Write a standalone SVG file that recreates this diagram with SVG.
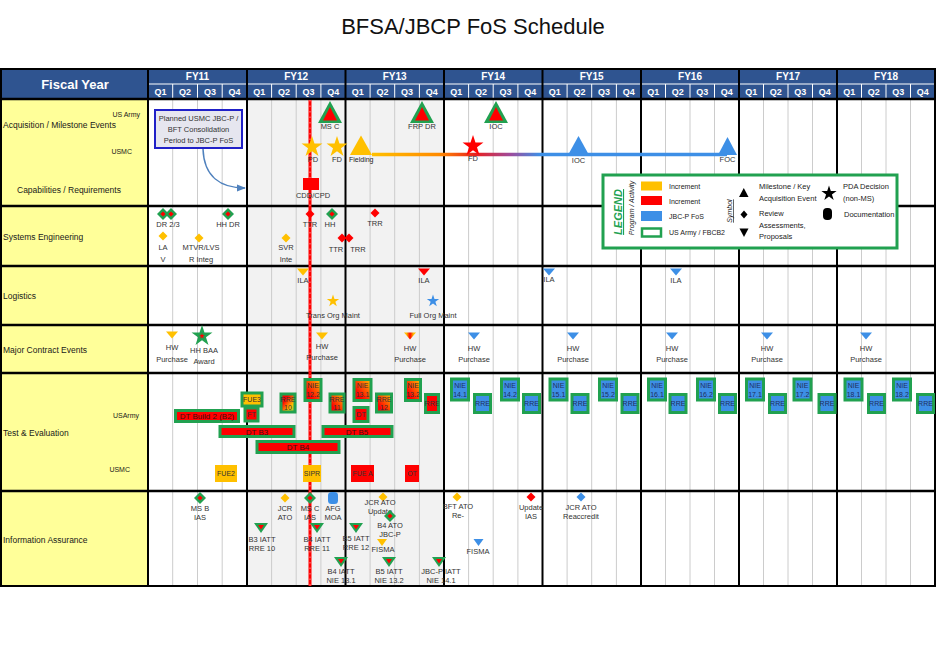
<svg xmlns="http://www.w3.org/2000/svg" xmlns:xlink="http://www.w3.org/1999/xlink" width="938" height="659" viewBox="0 0 938 659">
<style>
text{font-family:"Liberation Sans",Arial,sans-serif}
.title{font-size:22px;fill:#111;text-anchor:middle}
.hfy{font-size:10px;font-weight:bold;fill:#fff;text-anchor:middle}
.hq{font-size:9px;font-weight:bold;fill:#fff;text-anchor:middle}
.row{font-size:8.5px;fill:#1a1a1a}
.sub{font-size:7px;fill:#1a1a1a;text-anchor:end}
.t{font-size:7.5px;fill:#333;text-anchor:middle}
.tb{font-size:7px;fill:#1f2f60;text-anchor:middle}
.tl{font-size:7px;fill:#222}
.bar{font-size:8px;fill:#3a1010;text-anchor:middle}
.qline{stroke:#cccccc;stroke-width:1}
.yline{stroke:#000;stroke-width:2}
.rline{stroke:#000;stroke-width:2.5}
.gb{stroke:#21a150;stroke-width:3}
.gold{fill:#ffc000}
.red{fill:#ff0000}
.blue{fill:#3d8fe6}
.grn{fill:#21a150}
.blk{fill:#000}
</style>
<defs>
<path id="star" d="M0,-10 L2.25,-3.09 9.51,-3.09 3.63,1.18 5.88,8.09 0,3.82 -5.88,8.09 -3.63,1.18 -9.51,-3.09 -2.25,-3.09Z"/>
<path id="dia" d="M0,-4.5 L4.5,0 0,4.5 -4.5,0Z"/>
<path id="dtri" d="M-6,-3.5 L6,-3.5 0,3.5Z"/>
<g id="gdia"><path d="M0,-6 L6,0 0,6 -6,0Z" fill="#21a150"/><path d="M0,-2.6 L2.6,0 0,2.6 -2.6,0Z" fill="#ff0000"/></g>
<g id="gtri"><path d="M-7,-5 L7,-5 0,5Z" fill="#21a150"/><path d="M-3,-3 L3,-3 0,1.5Z" fill="#ff0000"/></g>
<g id="gup"><path d="M0,-11 L12,11 -12,11Z" fill="#21a150"/><path d="M0,-5 L7,8.5 -7,8.5Z" fill="#ff0000"/></g>
<linearGradient id="gLine" gradientUnits="userSpaceOnUse" x1="372" y1="0" x2="540" y2="0">
<stop offset="0" stop-color="#ffc000"/><stop offset="0.4" stop-color="#ff8a00"/><stop offset="0.62" stop-color="#e82020"/><stop offset="0.82" stop-color="#a04a9a"/><stop offset="1" stop-color="#3d8fe6"/>
</linearGradient>
<linearGradient id="gOR" x1="0" y1="1" x2="1" y2="0">
<stop offset="0.25" stop-color="#ff0000"/><stop offset="1" stop-color="#ffc000"/>
</linearGradient>
<linearGradient id="gRG" x1="0" y1="0" x2="1" y2="1">
<stop offset="0.3" stop-color="#ff0000"/><stop offset="0.7" stop-color="#ffc000"/><stop offset="1" stop-color="#92d050"/>
</linearGradient>
<linearGradient id="gHW" x1="0" y1="0" x2="1" y2="0">
<stop offset="0.2" stop-color="#ffc000"/><stop offset="0.5" stop-color="#ff0000"/><stop offset="0.8" stop-color="#ffc000"/>
</linearGradient>
<marker id="arr" viewBox="0 0 10 10" refX="9" refY="5" markerWidth="6" markerHeight="6" orient="auto">
<path d="M0,1 L10,5 0,9Z" fill="#4f81bd"/>
</marker>
</defs>

<rect width="938" height="659" fill="#fff"/>
<text class="title" x="473" y="34">BFSA/JBCP FoS Schedule</text>

<g id="grid">
<rect x="1" y="99" width="147" height="487" fill="#ffff99"/>
<rect x="247" y="99" width="197" height="487" fill="#f2f2f2"/>
<rect x="1" y="69" width="934" height="30" fill="#2f5490"/>
<text x="75" y="89" style="font-size:13px;font-weight:bold;fill:#fff;text-anchor:middle">Fiscal Year</text>
<line x1="148" y1="84" x2="935" y2="84" stroke="#fff" stroke-width="1"/>
<g class="hfy">
<text x="197.5" y="80">FY11</text><text x="296.2" y="80">FY12</text><text x="394.7" y="80">FY13</text><text x="493.2" y="80">FY14</text>
<text x="591.7" y="80">FY15</text><text x="690" y="80">FY16</text><text x="788" y="80">FY17</text><text x="886" y="80">FY18</text>
</g>
<g stroke="#fff" stroke-width="1">
<line x1="172.7" y1="84" x2="172.7" y2="99"/><line x1="197.5" y1="84" x2="197.5" y2="99"/><line x1="222.2" y1="84" x2="222.2" y2="99"/>
<line x1="271.6" y1="84" x2="271.6" y2="99"/><line x1="296.2" y1="84" x2="296.2" y2="99"/><line x1="320.9" y1="84" x2="320.9" y2="99"/>
<line x1="370.1" y1="84" x2="370.1" y2="99"/><line x1="394.7" y1="84" x2="394.7" y2="99"/><line x1="419.4" y1="84" x2="419.4" y2="99"/>
<line x1="468.6" y1="84" x2="468.6" y2="99"/><line x1="493.2" y1="84" x2="493.2" y2="99"/><line x1="517.9" y1="84" x2="517.9" y2="99"/>
<line x1="567.1" y1="84" x2="567.1" y2="99"/><line x1="591.7" y1="84" x2="591.7" y2="99"/><line x1="616.4" y1="84" x2="616.4" y2="99"/>
<line x1="665.5" y1="84" x2="665.5" y2="99"/><line x1="690" y1="84" x2="690" y2="99"/><line x1="714.5" y1="84" x2="714.5" y2="99"/>
<line x1="763.5" y1="84" x2="763.5" y2="99"/><line x1="788" y1="84" x2="788" y2="99"/><line x1="812.5" y1="84" x2="812.5" y2="99"/>
<line x1="861.5" y1="84" x2="861.5" y2="99"/><line x1="886" y1="84" x2="886" y2="99"/><line x1="910.5" y1="84" x2="910.5" y2="99"/>
</g>
<g class="hq">
<text x="160.4" y="95">Q1</text><text x="185.1" y="95">Q2</text><text x="209.9" y="95">Q3</text><text x="234.6" y="95">Q4</text>
<text x="259.3" y="95">Q1</text><text x="283.9" y="95">Q2</text><text x="308.6" y="95">Q3</text><text x="333.2" y="95">Q4</text>
<text x="357.8" y="95">Q1</text><text x="382.4" y="95">Q2</text><text x="407.1" y="95">Q3</text><text x="431.7" y="95">Q4</text>
<text x="456.3" y="95">Q1</text><text x="480.9" y="95">Q2</text><text x="505.6" y="95">Q3</text><text x="530.2" y="95">Q4</text>
<text x="554.8" y="95">Q1</text><text x="579.4" y="95">Q2</text><text x="604.1" y="95">Q3</text><text x="628.7" y="95">Q4</text>
<text x="653.2" y="95">Q1</text><text x="677.7" y="95">Q2</text><text x="702.2" y="95">Q3</text><text x="726.7" y="95">Q4</text>
<text x="751.2" y="95">Q1</text><text x="775.7" y="95">Q2</text><text x="800.2" y="95">Q3</text><text x="824.7" y="95">Q4</text>
<text x="849.2" y="95">Q1</text><text x="873.7" y="95">Q2</text><text x="898.2" y="95">Q3</text><text x="922.7" y="95">Q4</text>
</g>
<g class="qline">
<line x1="172.7" y1="99" x2="172.7" y2="586"/><line x1="197.5" y1="99" x2="197.5" y2="586"/><line x1="222.2" y1="99" x2="222.2" y2="586"/>
<line x1="271.6" y1="99" x2="271.6" y2="586"/><line x1="296.2" y1="99" x2="296.2" y2="586"/><line x1="320.9" y1="99" x2="320.9" y2="586"/>
<line x1="370.1" y1="99" x2="370.1" y2="586"/><line x1="394.7" y1="99" x2="394.7" y2="586"/><line x1="419.4" y1="99" x2="419.4" y2="586"/>
<line x1="468.6" y1="99" x2="468.6" y2="586"/><line x1="493.2" y1="99" x2="493.2" y2="586"/><line x1="517.9" y1="99" x2="517.9" y2="586"/>
<line x1="567.1" y1="99" x2="567.1" y2="586"/><line x1="591.7" y1="99" x2="591.7" y2="586"/><line x1="616.4" y1="99" x2="616.4" y2="586"/>
<line x1="665.5" y1="99" x2="665.5" y2="586"/><line x1="690" y1="99" x2="690" y2="586"/><line x1="714.5" y1="99" x2="714.5" y2="586"/>
<line x1="763.5" y1="99" x2="763.5" y2="586"/><line x1="788" y1="99" x2="788" y2="586"/><line x1="812.5" y1="99" x2="812.5" y2="586"/>
<line x1="861.5" y1="99" x2="861.5" y2="586"/><line x1="886" y1="99" x2="886" y2="586"/><line x1="910.5" y1="99" x2="910.5" y2="586"/>
</g>
<g class="yline">
<line x1="148" y1="69" x2="148" y2="586"/><line x1="247" y1="69" x2="247" y2="586"/><line x1="345.5" y1="69" x2="345.5" y2="586"/>
<line x1="444" y1="69" x2="444" y2="586"/><line x1="542.5" y1="69" x2="542.5" y2="586"/><line x1="641" y1="69" x2="641" y2="586"/>
<line x1="739" y1="69" x2="739" y2="586"/><line x1="837" y1="69" x2="837" y2="586"/>
</g>
<g class="rline">
<line x1="1" y1="99" x2="935" y2="99"/><line x1="1" y1="206" x2="935" y2="206"/><line x1="1" y1="266" x2="935" y2="266"/>
<line x1="1" y1="325" x2="935" y2="325"/><line x1="1" y1="373" x2="935" y2="373"/><line x1="1" y1="491" x2="935" y2="491"/>
</g>
<rect x="1" y="69" width="934" height="517" fill="none" stroke="#000" stroke-width="2"/>
<g class="row">
<text x="3" y="128">Acquisition / Milestone Events</text>
<text x="17" y="193">Capabilities / Requirements</text>
<text x="3" y="240">Systems Engineering</text>
<text x="3" y="299">Logistics</text>
<text x="3" y="353">Major Contract Events</text>
<text x="3" y="436">Test &amp; Evaluation</text>
<text x="3" y="543">Information Assurance</text>
</g>
<g class="sub">
<text x="140" y="117">US Army</text>
<text x="132" y="154">USMC</text>
<text x="139" y="418">USArmy</text>
<text x="130" y="472">USMC</text>
</g>
<line x1="310" y1="100" x2="310" y2="586" stroke="#ff0000" stroke-width="3"/>
<line x1="310" y1="100" x2="310" y2="586" stroke="#fff" stroke-width="0.7" stroke-dasharray="1.5,4" opacity="0.8"/>
</g>

<g id="connectors">
<path d="M203,149 C204,177 221,188 245,188" fill="none" stroke="#4f81bd" stroke-width="1.5" marker-end="url(#arr)"/>
<line x1="372" y1="154.5" x2="727" y2="154.5" stroke="url(#gLine)" stroke-width="3.5"/>
</g>

<g id="acquisition">
<g id="consolidation-note">
<rect x="155" y="110" width="87" height="38" fill="#e6e6ef" stroke="#2020c8" stroke-width="2"/>
<text class="t" x="198.5" y="121" style="font-size:7.5px">Planned USMC JBC-P /</text>
<text class="t" x="198.5" y="132" style="font-size:7.5px">BFT Consolidation</text>
<text class="t" x="198.5" y="143" style="font-size:7.5px">Period to JBC-P FoS</text>
</g>
<g id="ms-c"><use href="#gup" x="330" y="112"/><text class="t" x="330" y="129">MS C</text></g>
<g id="frp-dr"><use href="#gup" x="422" y="112"/><text class="t" x="422" y="129">FRP DR</text></g>
<g id="ioc-army"><use href="#gup" x="496" y="112"/><text class="t" x="496" y="129">IOC</text></g>
<g id="pd"><use href="#star" class="gold" transform="translate(312,147) scale(1.1)"/><text class="t" x="313" y="162">PD</text></g>
<g id="fd1"><use href="#star" class="gold" transform="translate(337,147) scale(1.1)"/><text class="t" x="337" y="162">FD</text></g>
<g id="fielding"><path d="M361,135.5 L372,155 350,155Z" class="gold"/><text class="tl" x="349" y="162">Fielding</text></g>
<g id="fd2"><use href="#star" class="red" transform="translate(473,146) scale(1.1)"/><text class="t" x="473" y="161">FD</text></g>
<g id="ioc-usmc"><path d="M578.5,136 L589,155 568,155Z" class="blue"/><text class="t" x="578.5" y="163">IOC</text></g>
<g id="foc"><path d="M727.5,137 L737,155 718,155Z" class="blue"/><text class="t" x="727.5" y="162">FOC</text></g>
<g id="cdd"><rect x="303" y="178" width="16" height="12" class="red"/><text class="t" x="313" y="198">CDD/CPD</text></g>
</g>

<g id="systems-engineering">
<g id="dr23"><use href="#gdia" x="163" y="214"/><use href="#gdia" x="171" y="214"/><text class="t" x="168" y="227">DR 2/3</text></g>
<g id="hhdr"><use href="#gdia" x="228" y="214"/><text class="t" x="228" y="227">HH DR</text></g>
<g id="lav"><use href="#dia" class="gold" x="163" y="236"/><text class="t" x="163" y="250">LA</text><text class="t" x="163" y="262">V</text></g>
<g id="mtvr"><use href="#dia" class="gold" x="199" y="238"/><text class="t" x="201" y="250">MTVR/LVS</text><text class="t" x="201" y="262">R Integ</text></g>
<g id="svr"><use href="#dia" class="gold" x="286" y="238"/><text class="t" x="286" y="250">SVR</text><text class="t" x="286" y="262">Inte</text></g>
<g id="ttr1"><use href="#dia" class="red" x="310" y="214"/><text class="t" x="310" y="227">TTR</text></g>
<g id="hh"><use href="#gdia" x="332" y="214"/><text class="t" x="330" y="227">HH</text></g>
<g id="trr1"><use href="#dia" class="red" x="375" y="213"/><text class="t" x="375" y="226">TRR</text></g>
<g id="ttr-trr"><use href="#dia" class="red" x="342" y="238"/><use href="#dia" class="red" x="349" y="238"/><text class="t" x="336" y="252">TTR</text><text class="t" x="358" y="252">TRR</text></g>
</g>

<g id="logistics">
<g id="ila1"><use href="#dtri" class="gold" x="303" y="272"/><text class="t" x="303" y="283">ILA</text></g>
<g id="trans-org"><use href="#star" class="gold" transform="translate(333,301) scale(0.65)"/><text class="t" x="333" y="318">Trans Org Maint</text></g>
<g id="ila2"><use href="#dtri" class="red" x="424" y="272"/><text class="t" x="424" y="283">ILA</text></g>
<g id="full-org"><use href="#star" class="blue" transform="translate(433,301) scale(0.65)"/><text class="t" x="433" y="318">Full Org Maint</text></g>
<g id="ila3"><use href="#dtri" class="blue" x="549" y="272"/><text class="t" x="549" y="282">ILA</text></g>
<g id="ila4"><use href="#dtri" class="blue" x="676" y="272"/><text class="t" x="676" y="283">ILA</text></g>
</g>

<g id="major-contract">
<g id="hw1"><use href="#dtri" class="gold" x="172" y="335"/><text class="t" x="172" y="350">HW</text><text class="t" x="172" y="362">Purchase</text></g>
<g id="hhbaa"><use href="#star" class="grn" transform="translate(202,336) scale(1.1)"/><use href="#star" class="red" transform="translate(202,336) scale(0.3)"/><text class="t" x="204" y="353">HH BAA</text><text class="t" x="204" y="364">Award</text></g>
<g id="hw2"><use href="#dtri" class="gold" x="322" y="336"/><text class="t" x="322" y="349">HW</text><text class="t" x="322" y="360">Purchase</text></g>
<g id="hw3"><path d="M404,332.5 L416,332.5 410,339.5Z" fill="url(#gHW)"/><text class="t" x="410" y="351">HW</text><text class="t" x="410" y="362">Purchase</text></g>
<g id="hw4"><use href="#dtri" class="blue" x="474" y="336"/><text class="t" x="474" y="351">HW</text><text class="t" x="474" y="362">Purchase</text></g>
<g id="hw5"><use href="#dtri" class="blue" x="573" y="336"/><text class="t" x="573" y="351">HW</text><text class="t" x="573" y="362">Purchase</text></g>
<g id="hw6"><use href="#dtri" class="blue" x="672" y="336"/><text class="t" x="672" y="351">HW</text><text class="t" x="672" y="362">Purchase</text></g>
<g id="hw7"><use href="#dtri" class="blue" x="767" y="336"/><text class="t" x="767" y="351">HW</text><text class="t" x="767" y="362">Purchase</text></g>
<g id="hw8"><use href="#dtri" class="blue" x="866" y="336"/><text class="t" x="866" y="351">HW</text><text class="t" x="866" y="362">Purchase</text></g>
</g>

<g id="test-evaluation">
<g id="dt-b2"><rect x="175.5" y="410.5" width="63" height="11" class="red gb"/><text class="bar" x="207" y="419">DT Build 2 (B2)</text></g>
<g id="fue3"><rect x="242" y="393" width="20" height="13" class="gold gb"/><text class="tb" x="252" y="402" style="fill:#333">FUE3</text></g>
<g id="ft"><rect x="245" y="408" width="13" height="13" class="red gb"/><text class="tb" x="251.5" y="417" style="fill:#333">FT</text></g>
<g id="dt-b3"><rect x="220" y="426.5" width="74" height="10" class="red gb"/><text class="bar" x="257" y="435">DT B3</text></g>
<g id="dt-b4"><rect x="257" y="441.5" width="82" height="11" class="red gb"/><text class="bar" x="298" y="450">DT B4</text></g>
<g id="dt-b5"><rect x="323" y="426.5" width="69" height="10" class="red gb"/><text class="bar" x="357" y="435">DT B5</text></g>
<g id="rre10"><rect x="281" y="394" width="14" height="18" fill="url(#gRG)" class="gb"/><text class="tb" x="288" y="402" style="fill:#333">RRE</text><text class="tb" x="288" y="410" style="fill:#333">10</text></g>
<g id="nie122"><rect x="305" y="379.5" width="16" height="21" fill="url(#gOR)" class="gb"/><text class="tb" x="313" y="388" style="fill:#333">NIE</text><text class="tb" x="313" y="397" style="fill:#333">12.2</text></g>
<g id="rre11"><rect x="330" y="394" width="14" height="18" fill="url(#gOR)" class="gb"/><text class="tb" x="337" y="402" style="fill:#333">RRE</text><text class="tb" x="337" y="410" style="fill:#333">11</text></g>
<g id="nie131"><rect x="354" y="379.5" width="17" height="21" fill="url(#gOR)" class="gb"/><text class="tb" x="362.5" y="388" style="fill:#333">NIE</text><text class="tb" x="362.5" y="397" style="fill:#333">13.1</text></g>
<g id="dt"><rect x="354" y="407.5" width="14" height="14" class="red gb"/><text class="tb" x="361" y="417" style="fill:#333">DT</text></g>
<g id="rre12"><rect x="376.5" y="394" width="15" height="18" fill="url(#gOR)" class="gb"/><text class="tb" x="384" y="402" style="fill:#333">RRE</text><text class="tb" x="384" y="410" style="fill:#333">12</text></g>
<g id="nie132"><rect x="405.5" y="379.5" width="15" height="21" fill="url(#gOR)" class="gb"/><text class="tb" x="413" y="388" style="fill:#333">NIE</text><text class="tb" x="413" y="397" style="fill:#333">13.2</text></g>
<g id="rre13"><rect x="425.5" y="394.5" width="13" height="18" class="red gb"/><text class="tb" x="432" y="406" style="fill:#333">RRE</text></g>
<g id="fue2"><rect x="215" y="465" width="22" height="17" class="gold"/><text class="tb" x="226" y="476" style="fill:#333">FUE2</text></g>
<g id="sipr"><rect x="303" y="465" width="18" height="17" class="gold"/><text class="tb" x="312" y="476" style="fill:#333">SIPR</text></g>
<g id="fuea"><rect x="351" y="465" width="23" height="17" class="red"/><text class="tb" x="362.5" y="476" style="fill:#333">FUE A</text></g>
<g id="ot"><rect x="405" y="465" width="14" height="17" class="red"/><text class="tb" x="412" y="476" style="fill:#333">OT</text></g>
<g id="fy14-te">
<rect x="451.5" y="379" width="17" height="21" class="blue gb"/><text class="tb" x="460" y="388">NIE</text><text class="tb" x="460" y="397">14.1</text>
<rect x="474.5" y="394.5" width="16" height="18" class="blue gb"/><text class="tb" x="482.5" y="406">RRE</text>
<rect x="501.5" y="379" width="17" height="21" class="blue gb"/><text class="tb" x="510" y="388">NIE</text><text class="tb" x="510" y="397">14.2</text>
<rect x="523.5" y="394.5" width="16" height="18" class="blue gb"/><text class="tb" x="531.5" y="406">RRE</text>
</g>
<g id="fy15-te">
<rect x="550" y="379" width="17" height="21" class="blue gb"/><text class="tb" x="558.5" y="388">NIE</text><text class="tb" x="558.5" y="397">15.1</text>
<rect x="572" y="394.5" width="16" height="18" class="blue gb"/><text class="tb" x="580" y="406">RRE</text>
<rect x="599.5" y="379" width="17" height="21" class="blue gb"/><text class="tb" x="608" y="388">NIE</text><text class="tb" x="608" y="397">15.2</text>
<rect x="622" y="394.5" width="16" height="18" class="blue gb"/><text class="tb" x="630" y="406">RRE</text>
</g>
<g id="fy16-te">
<rect x="648.5" y="379" width="17" height="21" class="blue gb"/><text class="tb" x="657" y="388">NIE</text><text class="tb" x="657" y="397">16.1</text>
<rect x="670" y="394.5" width="16" height="18" class="blue gb"/><text class="tb" x="678" y="406">RRE</text>
<rect x="697.5" y="379" width="17" height="21" class="blue gb"/><text class="tb" x="706" y="388">NIE</text><text class="tb" x="706" y="397">16.2</text>
<rect x="719.5" y="394.5" width="16" height="18" class="blue gb"/><text class="tb" x="727.5" y="406">RRE</text>
</g>
<g id="fy17-te">
<rect x="746.5" y="379" width="17" height="21" class="blue gb"/><text class="tb" x="755" y="388">NIE</text><text class="tb" x="755" y="397">17.1</text>
<rect x="769.5" y="394.5" width="16" height="18" class="blue gb"/><text class="tb" x="777.5" y="406">RRE</text>
<rect x="794" y="379" width="17" height="21" class="blue gb"/><text class="tb" x="802.5" y="388">NIE</text><text class="tb" x="802.5" y="397">17.2</text>
<rect x="819" y="394.5" width="16" height="18" class="blue gb"/><text class="tb" x="827" y="406">RRE</text>
</g>
<g id="fy18-te">
<rect x="845" y="379" width="17" height="21" class="blue gb"/><text class="tb" x="853.5" y="388">NIE</text><text class="tb" x="853.5" y="397">18.1</text>
<rect x="868.5" y="394.5" width="16" height="18" class="blue gb"/><text class="tb" x="876.5" y="406">RRE</text>
<rect x="893.5" y="379" width="17" height="21" class="blue gb"/><text class="tb" x="902" y="388">NIE</text><text class="tb" x="902" y="397">18.2</text>
<rect x="917.5" y="394.5" width="16" height="18" class="blue gb"/><text class="tb" x="925.5" y="406">RRE</text>
</g>
</g>

<g id="information-assurance">
<g id="msb-ias"><use href="#gdia" x="200" y="498"/><text class="t" x="200" y="511">MS B</text><text class="t" x="200" y="520">IAS</text></g>
<g id="jcr-ato"><use href="#dia" class="gold" x="285" y="498"/><text class="t" x="285" y="511">JCR</text><text class="t" x="285" y="520">ATO</text></g>
<g id="msc-ias"><use href="#gdia" x="310" y="498"/><text class="t" x="310" y="511">MS C</text><text class="t" x="310" y="520">IAS</text></g>
<g id="afg-moa"><rect x="328" y="492" width="10" height="12" rx="3.5" class="blue"/><text class="t" x="333" y="511">AFG</text><text class="t" x="333" y="520">MOA</text></g>
<g id="jcr-update"><use href="#dia" class="gold" x="383" y="497"/><text class="t" x="380" y="505">JCR ATO</text><text class="t" x="380" y="514">Update</text></g>
<g id="b4-ato"><use href="#gdia" x="390" y="516"/><text class="t" x="390" y="528">B4 ATO</text><text class="t" x="390" y="537">JBC-P</text></g>
<g id="b3-iatt"><use href="#gtri" x="261" y="528"/><text class="t" x="262" y="542">B3 IATT</text><text class="t" x="262" y="551">RRE 10</text></g>
<g id="b4-iatt"><use href="#gtri" x="317" y="528"/><text class="t" x="317" y="542">B4 IATT</text><text class="t" x="317" y="551">RRE 11</text></g>
<g id="b5-iatt"><use href="#gtri" x="356" y="528"/><text class="t" x="356" y="541">B5 IATT</text><text class="t" x="356" y="550">RRE 12</text></g>
<g id="fisma1"><path d="M377,539 L387,539 382,546Z" class="gold"/><text class="t" x="383" y="552">FISMA</text></g>
<g id="b4-nie"><use href="#gtri" x="341" y="562"/><text class="t" x="341" y="574">B4 IATT</text><text class="t" x="341" y="583">NIE 13.1</text></g>
<g id="b5-nie"><use href="#gtri" x="389" y="562"/><text class="t" x="389" y="574">B5 IATT</text><text class="t" x="389" y="583">NIE 13.2</text></g>
<g id="jbcp-nie"><use href="#gtri" x="439" y="562"/><text class="t" x="441" y="574">JBC-P IATT</text><text class="t" x="441" y="583">NIE 14.1</text></g>
<g id="bft-ato"><use href="#dia" class="gold" x="457" y="497"/><text class="t" x="458" y="509">BFT ATO</text><text class="t" x="458" y="518">Re-</text></g>
<g id="fisma2"><path d="M473.5,539 L483.5,539 478.5,546Z" class="blue"/><text class="t" x="478" y="554">FISMA</text></g>
<g id="update-ias"><use href="#dia" class="red" x="531" y="497"/><text class="t" x="531" y="510">Update</text><text class="t" x="531" y="519">IAS</text></g>
<g id="jcr-reacc"><use href="#dia" class="blue" x="581" y="497"/><text class="t" x="581" y="510">JCR ATO</text><text class="t" x="581" y="519">Reaccredit</text></g>
</g>

<g id="legend">
<rect x="603" y="175" width="294" height="73" fill="#fff" stroke="#21a150" stroke-width="3"/>
<text transform="translate(622,212) rotate(-90)" style="font-size:11px;font-weight:bold;font-style:italic;fill:#21a150;text-anchor:middle;text-decoration:underline">LEGEND</text>
<text transform="translate(634,208) rotate(-90)" style="font-size:7px;font-style:italic;fill:#222;text-anchor:middle">Program / Activity</text>
<rect x="641" y="181.5" width="21" height="9" class="gold"/>
<rect x="641" y="196" width="21" height="9" class="red"/>
<rect x="641" y="211" width="21" height="10" class="blue"/>
<rect x="642" y="228.5" width="19" height="8" fill="#fff" stroke="#21a150" stroke-width="2.5"/>
<text class="tl" x="669" y="188.5">Increment</text>
<text class="tl" x="669" y="203.5">Increment</text>
<text class="tl" x="669" y="218.5">JBC-P FoS</text>
<text class="tl" x="669" y="234.5">US Army  / FBCB2</text>
<text transform="translate(732,211) rotate(-90)" style="font-size:7px;font-style:italic;fill:#222;text-anchor:middle;text-decoration:underline">Symbol</text>
<path d="M743.8,188 L748.5,197 739,197Z" class="blk"/>
<path d="M744,210.5 L747.5,214.5 744,218.5 740.5,214.5Z" class="blk"/>
<path d="M739.5,228.5 L748.5,228.5 744,237Z" class="blk"/>
<text class="tl" x="759" y="189" style="font-size:7.5px">Milestone / Key</text>
<text class="tl" x="759" y="200.5" style="font-size:7.5px">Acquisition Event</text>
<text class="tl" x="759" y="216" style="font-size:7.5px">Review</text>
<text class="tl" x="759" y="228" style="font-size:7.5px">Assessments,</text>
<text class="tl" x="759" y="239" style="font-size:7.5px">Proposals</text>
<use href="#star" class="blk" transform="translate(829,193.5) scale(0.8)"/>
<text class="tl" x="843" y="189" style="font-size:7.5px">PDA Decision</text>
<text class="tl" x="843" y="200.5" style="font-size:7.5px">(non-MS)</text>
<rect x="823" y="208" width="9" height="12" rx="4" class="blk"/>
<text class="tl" x="844" y="216.5" style="font-size:7.5px">Documentation</text>
</g>
</svg>
